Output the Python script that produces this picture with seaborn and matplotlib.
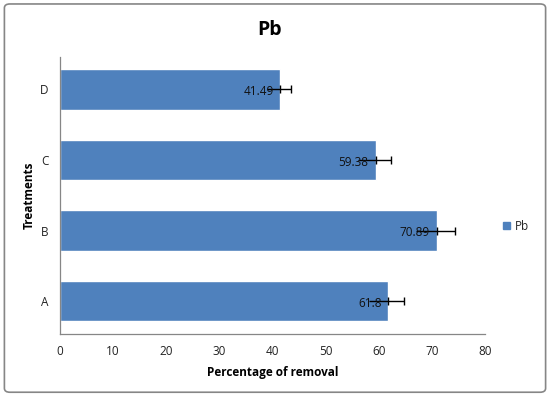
import matplotlib
matplotlib.use('Agg')
import matplotlib.pyplot as plt
from matplotlib.patches import FancyBboxPatch, Patch
import pandas as pd
import seaborn as sns

treatments = ['D', 'C', 'B', 'A']
removal = [41.49, 59.38, 70.89, 61.8]
err_minus = [2.6, 3.3, 3.8, 3.6]
err_plus = [1.9, 2.9, 3.5, 3.0]

df = pd.DataFrame({'Treatments': treatments, 'Percentage of removal': removal})

sns.set_style('white')
plt.rcParams['font.family'] = ['Open Sans', 'DejaVu Sans']

fig = plt.figure(figsize=(5.5, 3.97), dpi=100)
ax = fig.add_axes([0.109, 0.159, 0.773, 0.698])

sns.barplot(data=df, y='Treatments', x='Percentage of removal', order=treatments,
            color='#4F81BD', saturation=1, width=0.57, orient='h', ax=ax)

ys = range(len(treatments))
# minus side without a cap, plus side with one
ax.errorbar(removal, ys, xerr=[err_minus, [0] * 4], fmt='none', ecolor='black',
            elinewidth=1, capsize=0, zorder=4)
ax.errorbar(removal, ys, xerr=[[0] * 4, err_plus], fmt='none', ecolor='black',
            elinewidth=1, capsize=3, capthick=1, zorder=4)

for y, v in zip(ys, removal):
    ax.text(v - 1.3, y + 0.03, f'{v:g}', ha='right', va='center', fontsize=8.5,
            color='#111111', zorder=5)

ax.set_xlim(0, 80)
ax.set_xticks(range(0, 81, 10))
ax.tick_params(axis='both', labelsize=8.5, colors='#222222', length=0, pad=8)
ax.set_xlabel('Percentage of removal', fontsize=8.5, fontweight='bold', labelpad=6,
              color='black')
ax.set_ylabel('Treatments', fontsize=8.5, fontweight='bold', labelpad=3, color='black')
for side in ['top', 'right']:
    ax.spines[side].set_visible(False)
for side in ['left', 'bottom']:
    ax.spines[side].set_color('#868686')
    ax.spines[side].set_linewidth(0.9)

fig.text(0.49, 0.925, 'Pb', ha='center', va='center', fontsize=14, fontweight='bold',
         color='black')

fig.legend(handles=[Patch(color='#4F81BD', label='Pb')], loc='center left',
           bbox_to_anchor=(0.895, 0.43), frameon=False, fontsize=8.5,
           handlelength=0.6, handleheight=0.6, handletextpad=0.4)

border = FancyBboxPatch((0.008, 0.012), 0.984, 0.978, boxstyle='round,pad=0,rounding_size=0.01',
                        transform=fig.transFigure, fill=False, edgecolor='#868686',
                        linewidth=1.2)
fig.patches.append(border)

fig.savefig('out.png', dpi=100)
